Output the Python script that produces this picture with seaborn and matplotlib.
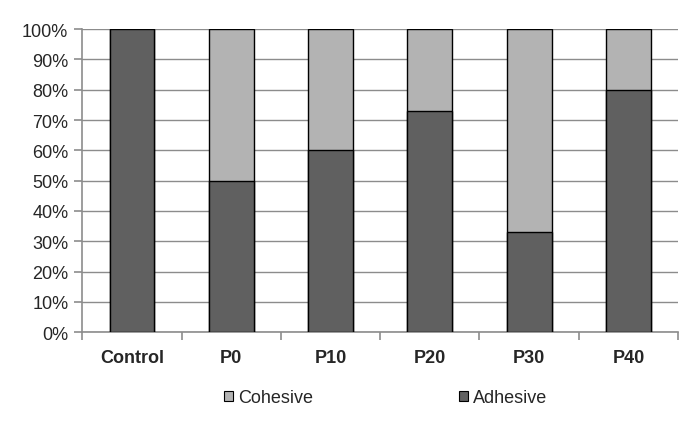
# Stacked failure-mode bars (adhesive vs cohesive)

import numpy as np
import pandas as pd
import seaborn as sns
import matplotlib.pyplot as plt
from matplotlib.patches import Patch
from matplotlib.ticker import PercentFormatter, FixedLocator

groups = ["Control", "P0", "P10", "P20", "P30", "P40"]
adhesive = [100, 50, 60, 73, 33, 80]
cohesive = [100 - a for a in adhesive]

df = pd.DataFrame({"group": groups, "Adhesive": adhesive, "Cohesive": cohesive})
df["total"] = df["Adhesive"] + df["Cohesive"]

sns.set_style("white")
plt.rcParams["font.family"] = ["Liberation Sans", "DejaVu Sans"]

dark = "#606060"
light = "#b3b3b3"
grid_col = "#8c8c8c"

fig = plt.figure(figsize=(6.85, 4.31), dpi=100)
ax = fig.add_axes([0.12, 0.227, 0.87, 0.703])

# full bar in cohesive colour, adhesive part drawn over it
sns.barplot(data=df, x="group", y="total", color=light, width=0.45,
            edgecolor="black", linewidth=1, saturation=1, ax=ax, zorder=3)
sns.barplot(data=df, x="group", y="Adhesive", color=dark, width=0.45,
            edgecolor="black", linewidth=1, saturation=1, ax=ax, zorder=3)

ax.set_ylim(0, 100)
ax.set_xlim(-0.5, len(groups) - 0.5)
ax.set_yticks(np.arange(0, 101, 10))
ax.yaxis.set_major_formatter(PercentFormatter(decimals=0))
ax.grid(axis="y", color=grid_col, linewidth=1, zorder=0)
ax.set_axisbelow(True)

ax.set_xlabel("")
ax.set_ylabel("")
for s in ["top", "right"]:
    ax.spines[s].set_visible(False)
for s in ["left", "bottom"]:
    ax.spines[s].set_color(grid_col)
    ax.spines[s].set_linewidth(1.2)

ax.tick_params(axis="y", left=True, length=6, color=grid_col, width=1.2,
               labelsize=13, pad=4)
ax.tick_params(axis="x", which="major", length=0, labelsize=13, pad=12)
ax.xaxis.set_minor_locator(FixedLocator(np.arange(-0.5, len(groups), 1.0)))
ax.tick_params(axis="x", which="minor", bottom=True, length=6,
               color=grid_col, width=1.2)
for lbl in ax.get_xticklabels():
    lbl.set_fontweight("bold")

handles = [Patch(facecolor=light, edgecolor="black", linewidth=0.8, label="Cohesive"),
           Patch(facecolor=dark, edgecolor="black", linewidth=0.8, label="Adhesive")]
fig.legend(handles=handles, loc="center", bbox_to_anchor=(0.563, 0.075), ncol=2,
           frameon=False, fontsize=13, handlelength=0.5, handleheight=0.5,
           handletextpad=0.25, columnspacing=8.1)

fig.savefig("out.png", dpi=100)
